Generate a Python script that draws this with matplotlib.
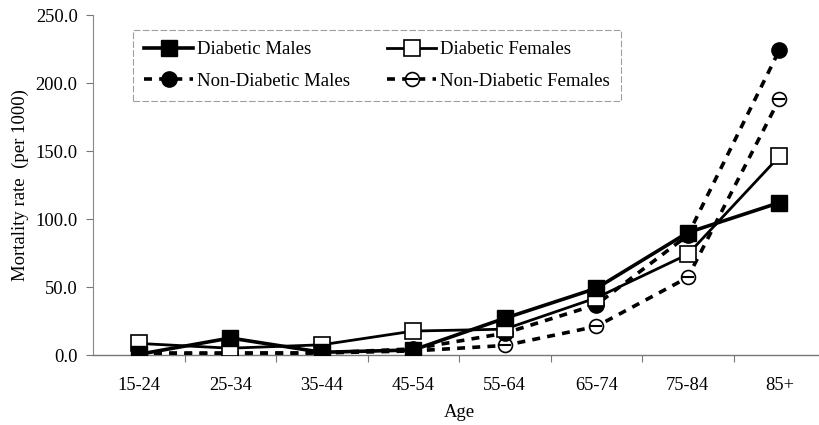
import matplotlib
matplotlib.use("Agg")
import matplotlib.pyplot as plt
import numpy as np

categories = ["15-24", "25-34", "35-44", "45-54", "55-64", "65-74", "75-84", "85+"]
diabetic_males = [0.5, 12.5, 2.0, 3.7, 27.0, 49.0, 90.0, 112.0]
diabetic_females = [8.5, 5.0, 7.5, 17.6, 19.0, 42.0, 74.0, 146.0]
nondiabetic_males = [1.5, 1.5, 1.5, 4.5, 16.0, 37.0, 88.0, 224.0]
nondiabetic_females = [0.5, 1.0, 1.5, 3.0, 7.0, 21.0, 57.0, 188.0]
yticks = [0, 50, 100, 150, 200, 250]

plt.rcParams['font.family'] = ['Liberation Serif', 'DejaVu Serif']

fig = plt.figure(figsize=(8.19, 4.25), dpi=100)
ax = fig.add_axes([93/819, (425-355)/425, (825-93)/819, (355-15)/425])

x = np.arange(len(categories))
lw = 2.6
ms = 11
dash = (2.2, 2.0)

l1, = ax.plot(x, diabetic_males, color='black', lw=lw, marker='s', ms=ms,
              mfc='black', mec='black', label='Diabetic Males', zorder=5)
l2, = ax.plot(x, diabetic_females, color='black', lw=2.0, marker='s', ms=ms,
              mfc='white', mec='black', mew=1.2, label='Diabetic Females', zorder=4)
l3, = ax.plot(x, nondiabetic_males, color='black', lw=lw, ls=(0, dash), marker='o',
              ms=ms, mfc='black', mec='black', label='Non-Diabetic Males', zorder=3)
l4, = ax.plot(x, nondiabetic_females, color='black', lw=lw, ls=(0, dash), marker='o',
              ms=ms - 1, mfc='white', mec='black', mew=1.2, label='Non-Diabetic Females', zorder=2)
l4b, = ax.plot(x, nondiabetic_females, ls='none', marker='_', ms=ms - 2, mec='black',
               mew=1.5, zorder=2.1)

ax.set_xlim(-0.5, len(categories) - 0.5)
ax.set_ylim(0, 250)
ax.set_yticks(yticks)
ax.set_yticklabels([f"{v:.1f}" for v in yticks])
ax.set_xticks(x)
ax.set_xticklabels(categories)
ax.set_xticks(np.arange(len(categories) - 1) + 0.5, minor=True)
ax.tick_params(axis='x', which='major', length=0, pad=16, labelsize=13.3)
ax.tick_params(axis='x', which='minor', length=5, color='#777777', width=0.8)
ax.tick_params(axis='y', length=5, color='#777777', width=0.8, labelsize=13.3, pad=6)

for s in ['top', 'right']:
    ax.spines[s].set_visible(False)
ax.spines['left'].set_color('#888888')
ax.spines['left'].set_linewidth(0.8)
ax.spines['bottom'].set_color('#777777')
ax.spines['bottom'].set_linewidth(1.0)

ax.set_ylabel("Mortality rate  (per 1000)", fontsize=13.5, labelpad=5)
ax.set_xlabel("Age", fontsize=13.5, labelpad=7)

leg = ax.legend([l1, l3, l2, (l4, l4b)],
                ['Diabetic Males', 'Non-Diabetic Males', 'Diabetic Females', 'Non-Diabetic Females'],
                ncol=2, loc='upper left', bbox_to_anchor=(40/732, 1 - 15/340),
                fontsize=13.5, frameon=True, fancybox=False, handlelength=2.6,
                handletextpad=0.2, columnspacing=2.0, labelspacing=0.75,
                borderpad=0.6, borderaxespad=0)
leg.get_frame().set_edgecolor('#888888')
leg.get_frame().set_linewidth(0.8)
leg.get_frame().set_linestyle((0, (6, 2)))

fig.savefig("out.png", dpi=100)
